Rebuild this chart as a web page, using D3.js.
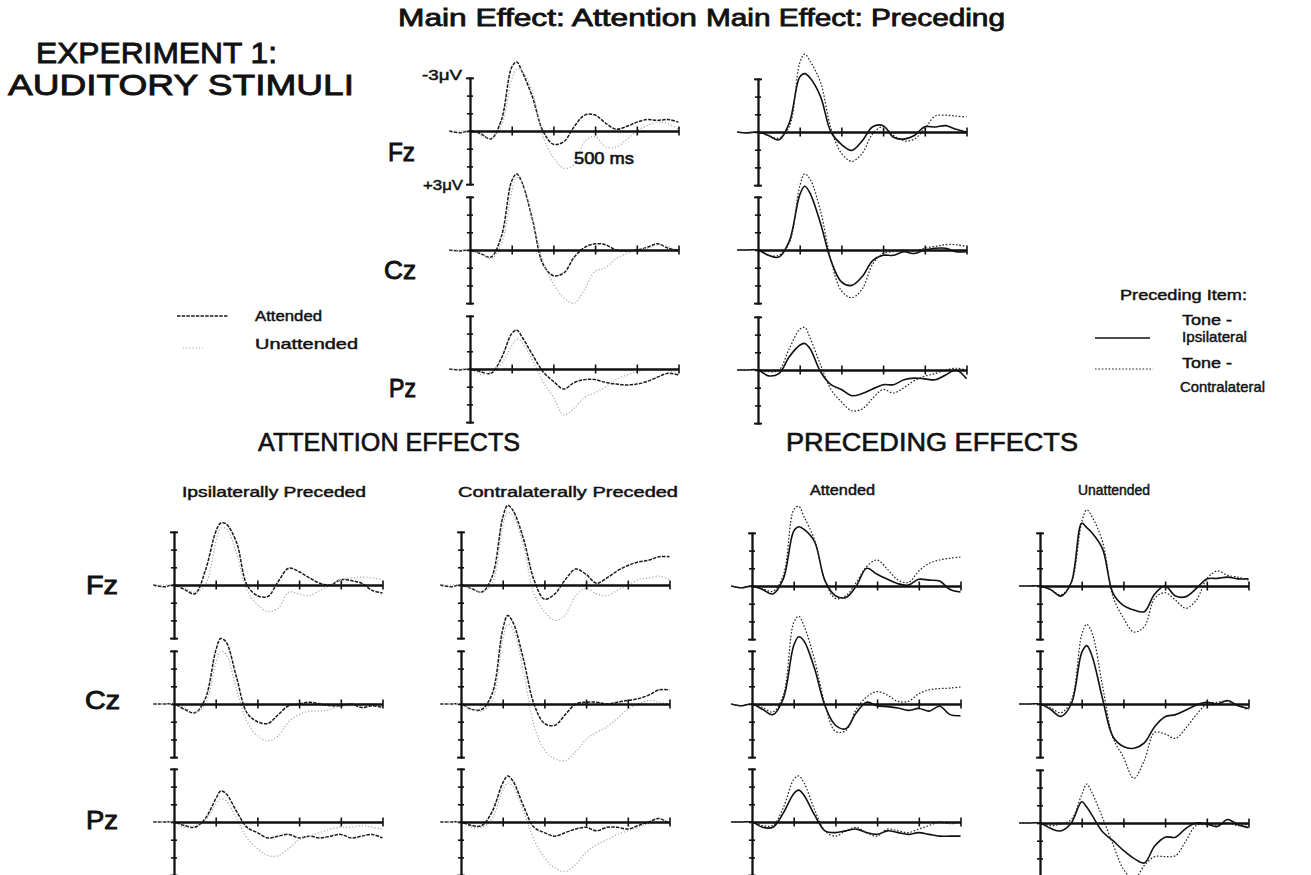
<!DOCTYPE html>
<html><head><meta charset="utf-8">
<script src="https://cdn.jsdelivr.net/npm/d3@7"></script>
<style>body{margin:0;background:#fff} svg{display:block}</style>
</head><body>
<svg id="c" width="1311" height="875"></svg>
<script>
// ---- data (µV, negative plotted upward) ----
const times = [-50,-25,0,25,50,75,100,112,125,150,175,200,225,250,275,300,325,350,375,400,425,450,475,500];
const electrodes = ["Fz","Cz","Pz"];
const yTicks = [-3,-2,-1,0,1,2,3];
const xTicks = [100,200,300,400,500];

// Main effect: Attention (attended / unattended)
const attFzA = [0,0.1,0,0.15,0.45,-0.6,-3.6,-3.9,-3.35,-1.9,0,0.75,0.6,-0.25,-0.9,-0.9,-0.45,-0.1,-0.25,-0.5,-0.65,-0.6,-0.65,-0.5];
const attFzU = [0,0,0,0.2,0.45,-0.3,-2.9,-3.5,-3.4,-2.2,0.3,1.5,2.1,1.9,0.6,0.3,0.9,0.9,0.5,0,-0.3,-0.5,-0.4,-0.1];
const attCzA = [0,0.05,0,0.2,0.4,-0.75,-3.9,-4.3,-3.8,-1.7,0.8,1.45,1.3,0.4,-0.15,-0.35,-0.3,0,0.05,0,-0.15,-0.35,-0.1,0];
const attCzU = [0,0,0,0.2,0.5,-0.3,-3.3,-4.1,-3.8,-1.8,0.6,1.9,2.7,3.0,2.2,1.2,1.0,0.5,0.2,0,-0.1,-0.3,-0.2,0.1];
const attPzA = [0,0.05,0,0.15,0.25,-0.6,-2.0,-2.2,-1.8,-0.8,0.15,0.7,1.13,0.76,0.6,0.6,0.76,0.85,0.9,0.85,0.7,0.46,0.24,0.33];
const attPzU = [0,0,0,0.3,0.15,-0.3,-1.3,-1.7,-1.5,-0.5,0.7,1.6,2.6,2.2,1.6,1.35,1.0,0.6,0.35,0.15,0.05,0.05,0.1,0.2];

// Main effect: Preceding (ipsilateral / contralateral)
const preFzI = [0,0.05,0,0.2,0.45,-0.5,-3.1,-3.3,-3.05,-2.0,0,0.7,1.04,0.5,-0.3,-0.36,0.3,0.4,0.2,-0.3,-0.28,-0.36,-0.15,0];
const preFzC = [0,0.05,0,0.2,0.35,-0.3,-3.9,-4.4,-4.0,-2.8,-0.2,1.2,1.66,1.2,0.1,-0.3,0.2,0.5,0.4,-0.2,-0.9,-0.95,-0.9,-0.85];
const preCzI = [0,0,0,0.3,0.4,-0.5,-3.1,-3.6,-3.2,-1.5,0.6,1.8,2.0,1.5,0.6,0.3,0.3,0.1,0.2,0,-0.1,-0.1,0.1,0.1];
const preCzC = [0,0,0,0.3,0.3,-0.4,-3.6,-4.3,-4.0,-2.2,0.6,2.3,2.7,2.2,0.8,0.2,0.1,0,0.05,-0.1,-0.2,-0.3,-0.3,-0.2];
const prePzI = [0,0,0,0.33,0.2,-0.75,-1.4,-1.5,-1.2,0.1,0.83,1.1,1.45,1.33,1.07,0.83,0.83,0.55,0.46,0.5,0.55,0.28,0,0.5];
const prePzC = [0,0,0,0.1,0,-1.2,-2.3,-2.4,-1.8,-0.3,1.1,1.8,2.3,2.2,1.6,1.1,1.3,1.0,0.6,0.35,0.2,0,-0.1,0];

// Attention effects: ipsilaterally preceded
const ipFzA = [0,0.1,0,0.25,0.5,-0.8,-3.0,-3.5,-3.45,-2.4,0,0.6,0.65,-0.2,-0.95,-0.75,-0.4,-0.1,0,-0.3,-0.25,-0.1,0.3,0.45];
const ipFzU = [0,0,0,0.15,0.4,0,-2.4,-3.2,-3.2,-1.8,0.3,1.1,1.5,1.3,0.4,0.5,0.6,0.3,0,-0.3,-0.4,-0.45,-0.4,-0.3];
const ipCzA = [0,0,0,0.3,0.5,-0.3,-3.0,-3.7,-3.5,-1.5,0.5,1.0,1.1,0.6,0.1,0,-0.1,0,0.1,0.1,0,0.2,0.1,0.2];
const ipCzU = [0,0,0,0.2,0.5,0,-2.3,-3.0,-2.8,-0.8,1.0,1.8,2.1,1.8,1.0,0.6,0.4,0.4,0.3,0.1,0.1,0,0,0.1];
const ipPzA = [0,0,0,0.2,0.3,-0.2,-1.3,-1.75,-1.6,-0.6,0.3,0.6,0.9,0.8,0.7,0.9,0.8,0.9,0.8,0.7,0.9,0.8,0.7,0.9];
const ipPzU = [0,0,0,0.3,0.2,-0.1,-1.0,-1.3,-1.2,-0.2,0.9,1.5,1.9,1.9,1.5,1.0,0.8,0.6,0.4,0.3,0.3,0.2,0.3,0.4];

// Attention effects: contralaterally preceded
const cpFzA = [0,0.1,0,0.2,0.4,-0.5,-3.8,-4.5,-4.2,-2.6,-0.3,0.8,0.5,-0.3,-0.9,-0.6,-0.1,-0.4,-0.8,-1.1,-1.3,-1.4,-1.6,-1.6];
const cpFzU = [0,0,0,0.2,0.4,-0.1,-3.3,-4.1,-3.9,-2.2,0.5,1.5,2.0,1.7,0.6,0.2,0.5,0.6,0.3,0,-0.3,-0.4,-0.5,-0.3];
const cpCzA = [0,0,0,0.3,0.3,-0.6,-4.2,-5.0,-4.6,-2.5,0,1.1,1.2,0.6,0,-0.1,-0.1,0,-0.1,-0.2,-0.3,-0.5,-0.8,-0.8];
const cpCzU = [0,0,0,0.3,0.4,-0.2,-3.6,-4.5,-4.2,-1.8,1.2,2.6,3.1,3.2,2.7,2.0,1.6,1.3,0.8,0.3,0,-0.2,-0.1,0];
const cpPzA = [0,0,0,0.2,0.2,-0.6,-2.2,-2.6,-2.3,-0.9,0.3,0.6,0.8,0.6,0.4,0.3,0.5,0.3,0.3,0.4,0.2,0,-0.2,0.1];
const cpPzU = [0,0,0,0.3,0.3,-0.2,-1.8,-2.2,-2.0,-0.6,1.0,2.0,2.6,2.8,2.4,1.7,1.3,1.0,0.7,0.5,0.3,0.1,0,0];

// Preceding effects: attended
const adFzI = [0,0.1,0,0.2,0.45,-0.4,-3.1,-3.35,-3.2,-2.5,-0.3,0.55,0.65,0,-1.0,-0.66,-0.38,-0.13,-0.05,-0.38,-0.33,-0.28,0.2,0.34];
const adFzC = [0,0.1,0,0.15,0.3,-0.6,-4.3,-4.5,-3.9,-2.6,-0.3,0.7,0.55,-0.2,-1.1,-1.47,-0.94,-0.34,-0.2,-0.85,-1.28,-1.47,-1.57,-1.64];
const adCzI = [0,0.1,0,0.3,0.6,-0.3,-3.3,-3.8,-3.55,-2.0,0.1,1.2,1.4,0.5,-0.1,0.1,0.15,0.23,0.36,0.25,0.4,0.13,0.6,0.66];
const adCzC = [0,0.1,0,0.2,0.45,-0.5,-4.6,-4.96,-4.4,-2.5,0,1.55,1.5,0.3,-0.4,-0.7,-0.5,-0.15,-0.15,-0.58,-0.8,-0.87,-0.9,-0.96];
const adPzI = [0,0,0,0.3,0.3,-0.5,-1.6,-1.8,-1.5,-0.4,0.5,0.6,0.5,0.4,0.6,0.7,0.5,0.6,0.7,0.6,0.7,0.8,0.8,0.8];
const adPzC = [0,0,0,0.2,0.2,-0.8,-2.4,-2.6,-2.2,-0.7,0.5,0.8,0.5,0.3,0.6,0.8,0.4,0.5,0.6,0.4,0.2,0,0.1,0];

// Preceding effects: unattended
const unFzI = [0,0,0,0.2,0.57,-0.2,-3.55,-3.3,-3.0,-2.1,0.4,1.1,1.36,1.45,0.45,0,0.57,0.6,0.14,-0.4,-0.43,-0.5,-0.4,-0.4];
const unFzC = [0,0,0,0.2,0.5,-0.2,-3.6,-4.3,-3.9,-2.5,0.6,1.8,2.6,2.3,0.7,0.38,0.8,1.26,0.8,-0.4,-0.85,-0.6,-0.5,-0.34];
const unCzI = [0,0,0,0.3,0.7,0,-2.9,-3.3,-2.7,-0.3,1.85,2.4,2.5,2.2,1.28,0.72,0.6,0.34,0.05,-0.1,0,-0.2,0.1,0.25];
const unCzC = [0,0,0,0.2,0.5,-0.2,-3.9,-4.5,-4.0,-1.0,1.9,3.0,4.2,3.2,1.6,1.7,1.94,1.35,0.6,0,-0.1,-0.15,0.1,0.34];
const unPzI = [0,0,0,0.3,0.45,0,-1.2,-0.9,-0.43,0.5,1.0,1.55,2.0,2.26,1.3,0.8,0.8,0.3,0,0.05,0.2,-0.2,0.1,0.26];
const unPzC = [0,0,0,0.15,0.05,-0.2,-1.6,-2.2,-1.7,-0.3,1.2,2.6,3.2,2.4,1.9,1.9,1.85,1.0,0.13,0.1,0.1,0,0.15,0.05];

// ---- layout ----
const panels = [
  {x0:470,  rows:[131,250,369], kind:"attn", series:[[attFzA,attFzU],[attCzA,attCzU],[attPzA,attPzU]]},
  {x0:758,  rows:[132,250,370], kind:"prec", series:[[preFzI,preFzC],[preCzI,preCzC],[prePzI,prePzC]]},
  {x0:174,  rows:[585,704,822], kind:"attn", series:[[ipFzA,ipFzU],[ipCzA,ipCzU],[ipPzA,ipPzU]]},
  {x0:461,  rows:[585,704,822], kind:"attn", series:[[cpFzA,cpFzU],[cpCzA,cpCzU],[cpPzA,cpPzU]]},
  {x0:752,  rows:[586,704,822], kind:"prec", series:[[adFzI,adFzC],[adCzI,adCzC],[adPzI,adPzC]]},
  {x0:1040, rows:[586,704,823], kind:"prec", series:[[unFzI,unFzC],[unCzI,unCzC],[unPzI,unPzC]]}
];
const PX_PER_MS = 0.417, PX_PER_UV = 17.7;
const styles = {
  attn: [{stroke:"#1a1a1a", width:1.5, dash:"3.5,1.2"}, {stroke:"#a8a8a8", width:1.2, dash:"1.2,2"}],
  prec: [{stroke:"#111", width:1.6, dash:null}, {stroke:"#222", width:1.2, dash:"1.6,1.8"}]
};

const svg = d3.select("#c");
const FONT = "'Liberation Sans', Arial, Helvetica, sans-serif";

panels.forEach(p => {
  p.rows.forEach((zero, ri) => {
    const x = d3.scaleLinear().domain([0,500]).range([p.x0, p.x0 + 500*PX_PER_MS]);
    const y = d3.scaleLinear().domain([-3,3]).range([zero - 3*PX_PER_UV, zero + 3*PX_PER_UV]);
    const g = svg.append("g");
    const line = d3.line().x(d => x(d[0])).y(d => y(d[1])).curve(d3.curveCatmullRom.alpha(0.5));
    p.series[ri].forEach((vals, si) => {
      const st = styles[p.kind][si];
      g.append("path").datum(times.map((t,i) => [t, vals[i]]))
        .attr("d", line).attr("fill","none")
        .attr("stroke", st.stroke).attr("stroke-width", st.width)
        .attr("stroke-dasharray", st.dash);
    });
    const yl = g.append("g").attr("transform", `translate(${p.x0},0)`)
      .call(d3.axisLeft(y).tickValues(yTicks).tickFormat("").tickSizeInner(3).tickSizeOuter(4));
    const yr = g.append("g").attr("transform", `translate(${p.x0},0)`)
      .call(d3.axisRight(y).tickValues(yTicks).tickFormat("").tickSizeInner(3).tickSizeOuter(4));
    const xb = g.append("g").attr("transform", `translate(0,${zero})`)
      .call(d3.axisBottom(x).tickValues(xTicks).tickFormat("").tickSizeInner(4.5).tickSizeOuter(0));
    const xt = g.append("g").attr("transform", `translate(0,${zero})`)
      .call(d3.axisTop(x).tickValues(xTicks).tickFormat("").tickSizeInner(4.5).tickSizeOuter(0));
    [yl,yr,xb,xt].forEach(a => {
      a.selectAll("path.domain").attr("stroke","#111").attr("stroke-width",1.8);
      a.selectAll(".tick line").attr("stroke","#111").attr("stroke-width",1.6);
    });
  });
});

// ---- text ----
// weight: "b" = bold, number = regular with outline stroke (medium look)
function txt(x, yc, s, size, w, weight) {
  const t = svg.append("text").attr("x", x).attr("y", yc + size*0.36)
    .attr("font-family", FONT).attr("font-size", size)
    .attr("fill", "#111")
    .attr("textLength", w).attr("lengthAdjust", "spacingAndGlyphs")
    .text(s);
  if (weight === "b") t.attr("font-weight", "bold");
  else if (typeof weight === "number") t.attr("stroke", "#111").attr("stroke-width", weight);
}
txt(36, 52, "EXPERIMENT 1:", 30, 241, 0.9);
txt(8, 84, "AUDITORY STIMULI", 30, 346, 0.9);
txt(398, 18, "Main Effect: Attention", 23, 299, 0.8);
txt(706, 18, "Main Effect: Preceding", 23, 299, 0.8);
txt(422, 75, "-3\u03bcV", 15, 40, 0.5);
txt(423, 185, "+3\u03bcV", 15, 40, 0.5);
txt(574, 158, "500 ms", 17, 60, 0.6);
const topLab = [[388,152,27],[384,270,32],[389,388,27]];
electrodes.forEach((e,i) => txt(topLab[i][0], topLab[i][1], e, 25, topLab[i][2], 0.9));
const botLab = [[86,585,32],[85,700,35],[86,820,32]];
electrodes.forEach((e,i) => txt(botLab[i][0], botLab[i][1], e, 25, botLab[i][2], 0.9));

// legends
const legA = svg.append("g");
legA.append("line").attr("x1",177).attr("x2",228).attr("y1",316).attr("y2",316)
  .attr("stroke",styles.attn[0].stroke).attr("stroke-width",1.5).attr("stroke-dasharray",styles.attn[0].dash);
legA.append("line").attr("x1",183).attr("x2",203).attr("y1",348).attr("y2",348)
  .attr("stroke",styles.attn[1].stroke).attr("stroke-width",1.2).attr("stroke-dasharray",styles.attn[1].dash);
txt(255, 316, "Attended", 15, 67, 0.45);
txt(255, 344, "Unattended", 15, 103, 0.45);

const legP = svg.append("g");
legP.append("line").attr("x1",1095).attr("x2",1150).attr("y1",338).attr("y2",338)
  .attr("stroke",styles.prec[0].stroke).attr("stroke-width",1.6);
legP.append("line").attr("x1",1095).attr("x2",1153).attr("y1",369).attr("y2",369)
  .attr("stroke",styles.prec[1].stroke).attr("stroke-width",1.2).attr("stroke-dasharray",styles.prec[1].dash);
txt(1120, 295, "Preceding Item:", 15, 127, 0.45);
txt(1182, 320, "Tone -", 15, 50, 0.45);
txt(1182, 337, "Ipsilateral", 15, 65, 0.45);
txt(1182, 363, "Tone -", 15, 50, 0.45);
txt(1180, 387, "Contralateral", 15, 85, 0.45);

txt(258, 442, "ATTENTION EFFECTS", 25, 262, 0.6);
txt(786, 442, "PRECEDING EFFECTS", 25, 292, 0.6);
txt(182, 492, "Ipsilaterally Preceded", 14, 184, 0.45);
txt(458, 492, "Contralaterally Preceded", 14, 220, 0.45);
txt(810, 490, "Attended", 14, 65, 0.45);
txt(1078, 490, "Unattended", 14, 72, 0.45);
</script>
</body></html>
